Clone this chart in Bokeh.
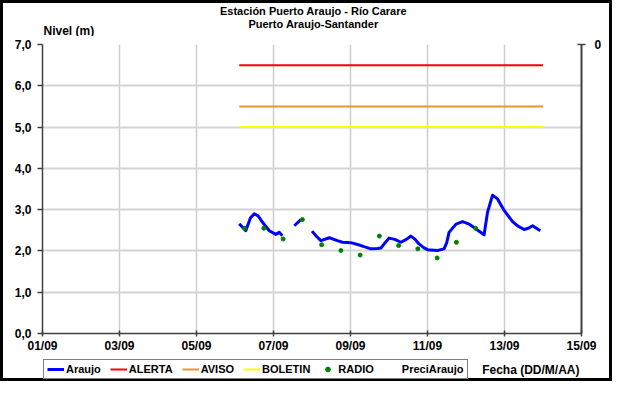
import pandas as pd
from bokeh.plotting import figure
from bokeh.layouts import column
from bokeh.models import (Range1d, LinearAxis, FixedTicker, DatetimeTickFormatter,
                          Label, Legend, LegendItem, ColumnDataSource)
from bokeh.embed import file_html
from bokeh.resources import INLINE

# ---------------- data ----------------
araujo_times = [
    "2023-09-06 02:38", "2023-09-06 06:43", "2023-09-06 09:36", "2023-09-06 12:00",
    "2023-09-06 14:24", "2023-09-06 17:02", "2023-09-06 21:22", "2023-09-07 01:26",
    "2023-09-07 03:36", "2023-09-07 05:31", "2023-09-07 09:00",
    "2023-09-07 12:58", "2023-09-07 17:02", "2023-09-07 20:00",
    "2023-09-08 00:00", "2023-09-08 02:53", "2023-09-08 05:31", "2023-09-08 10:48",
    "2023-09-08 15:50", "2023-09-08 18:58", "2023-09-09 00:14", "2023-09-09 06:29",
    "2023-09-09 12:43", "2023-09-09 16:48", "2023-09-09 18:58", "2023-09-09 21:36",
    "2023-09-10 00:00", "2023-09-10 03:36", "2023-09-10 07:26", "2023-09-10 10:48",
    "2023-09-10 13:41", "2023-09-10 16:19", "2023-09-10 18:43", "2023-09-10 21:36",
    "2023-09-11 00:00", "2023-09-11 06:14", "2023-09-11 10:19", "2023-09-11 12:00",
    "2023-09-11 13:26", "2023-09-11 17:46", "2023-09-11 21:50", "2023-09-12 01:55",
    "2023-09-12 06:14", "2023-09-12 11:17", "2023-09-12 13:26", "2023-09-12 16:34",
    "2023-09-12 19:41", "2023-09-12 23:46", "2023-09-13 05:02", "2023-09-13 08:24",
    "2023-09-13 12:14", "2023-09-13 14:53", "2023-09-13 17:31", "2023-09-13 22:19",
]
araujo_levels = [
    2.66, 2.49, 2.80, 2.90,
    2.85, 2.70, 2.49, 2.40,
    2.45, 2.37, float("nan"),
    2.61, 2.76, float("nan"),
    2.48, 2.35, 2.25, 2.32,
    2.25, 2.21, 2.20, 2.13,
    2.05, 2.06, 2.07, 2.20,
    2.31, 2.28, 2.21, 2.28,
    2.36, 2.28, 2.17, 2.08,
    2.03, 2.01, 2.05, 2.20,
    2.45, 2.65, 2.71, 2.65,
    2.53, 2.39, 2.94, 3.35,
    3.26, 2.98, 2.71, 2.60,
    2.52, 2.55, 2.61, 2.49,
]
radio_times = [
    "2023-09-06 06:00", "2023-09-06 18:00", "2023-09-07 06:00", "2023-09-07 18:00",
    "2023-09-08 06:00", "2023-09-08 18:00", "2023-09-09 06:00", "2023-09-09 18:00",
    "2023-09-10 06:00", "2023-09-10 18:00", "2023-09-11 06:00", "2023-09-11 18:00",
    "2023-09-12 06:00",
]
radio_levels = [2.55, 2.55, 2.29, 2.76, 2.15, 2.01, 1.90, 2.36, 2.13, 2.05, 1.83, 2.21, 2.55]

threshold_times = ["2023-09-06 02:38", "2023-09-14 00:00"]
alerta_level = [6.5, 6.5]
aviso_level = [5.5, 5.5]
boletin_level = [5.0, 5.0]

x_tick_dates = ["2023-09-01", "2023-09-03", "2023-09-05", "2023-09-07",
                "2023-09-09", "2023-09-11", "2023-09-13", "2023-09-15"]
y_ticks = [0, 1, 2, 3, 4, 5, 6, 7]
y_tick_labels = ["0,0", "1,0", "2,0", "3,0", "4,0", "5,0", "6,0", "7,0"]

title_line1 = "Estación Puerto Araujo - Río Carare"
title_line2 = "Puerto Araujo-Santander"
y_title = "Nivel (m)"
x_title = "Fecha (DD/M/AA)"
series_names = ["Araujo", "ALERTA", "AVISO", "BOLETIN", "RADIO", "PreciAraujo"]

FONT = "Liberation Sans"
W = 612
ML, MR = 39, 34
H_TOP, H_MAIN, H_BOT = 36, 319, 26
BORDER = "3px solid black"

COL_ARAUJO, COL_ALERTA, COL_AVISO, COL_BOLETIN, COL_RADIO = (
    "#0000ff", "#ff0000", "#e8962e", "#ffff00", "#008000")


def bare_figure(height, borders):
    f = figure(width=W, height=height, output_backend="svg", toolbar_location=None,
               x_axis_location=None, y_axis_location=None,
               x_range=Range1d(0, 1), y_range=Range1d(0, 1),
               min_border_left=ML, min_border_right=MR,
               min_border_top=0, min_border_bottom=0)
    f.grid.visible = False
    f.outline_line_color = None
    f.background_fill_color = "white"
    f.border_fill_color = "white"
    f.styles = {b: BORDER for b in borders}
    return f


def label(fig, x, y, text, size, align="left"):
    fig.add_layout(Label(x=x, y=y, x_units="screen", y_units="screen", text=text,
                         text_font=FONT, text_font_style="bold", text_font_size=size,
                         text_align=align, text_baseline="middle", text_color="black"))


# ---------------- top strip: titles ----------------
p_top = bare_figure(H_TOP, ["border-top", "border-left", "border-right"])
label(p_top, 271, 29, title_line1, "11px", "center")
label(p_top, 271, 16, title_line2, "11px", "center")
label(p_top, 1, 9, y_title, "12px")

# ---------------- main chart ----------------
x_start = pd.Timestamp(x_tick_dates[0])
x_end = pd.Timestamp(x_tick_dates[-1])

p = figure(width=W, height=H_MAIN, x_axis_type="datetime",
           x_range=Range1d(x_start, x_end), y_range=Range1d(0, 7),
           output_backend="svg", toolbar_location=None,
           min_border_left=ML, min_border_right=MR, min_border_top=8, min_border_bottom=21)
p.styles = {"border-left": BORDER, "border-right": BORDER}
p.outline_line_color = None
p.background_fill_color = "white"
p.border_fill_color = "white"

p.xaxis.ticker = FixedTicker(ticks=[pd.Timestamp(d).value / 1e6 for d in x_tick_dates])
p.xaxis.formatter = DatetimeTickFormatter(days="%d/%m", months="%d/%m", hours="%d/%m")
p.yaxis.ticker = FixedTicker(ticks=y_ticks)
p.yaxis.major_label_overrides = {t: l for t, l in zip(y_ticks, y_tick_labels)}

for ax in (p.xaxis[0], p.yaxis[0]):
    ax.axis_line_color = "#404040"
    ax.axis_line_width = 1.5
    ax.major_tick_line_color = "#404040"
    ax.major_tick_line_width = 1.5
    ax.minor_tick_line_color = None
    ax.major_label_text_font = FONT
    ax.major_label_text_font_style = "bold"
    ax.major_label_text_font_size = "12px"
    ax.major_label_text_color = "black"
p.xaxis.major_tick_in = 3
p.xaxis.major_tick_out = 3
p.xaxis.major_label_standoff = 2
p.yaxis.major_tick_in = 0
p.yaxis.major_tick_out = 5
p.yaxis.major_label_standoff = 6

# right (precipitation) axis
p.extra_y_ranges = {"prec": Range1d(10, 0)}
rax = LinearAxis(y_range_name="prec", ticker=FixedTicker(ticks=[0]))
rax.axis_line_color = "#404040"
rax.axis_line_width = 2
rax.major_tick_line_color = "#404040"
rax.major_tick_line_width = 1.5
rax.major_tick_in = 4
rax.major_tick_out = 4
rax.minor_tick_line_color = None
rax.major_label_text_font = FONT
rax.major_label_text_font_style = "bold"
rax.major_label_text_font_size = "12px"
rax.major_label_text_color = "black"
rax.major_label_standoff = 9
p.add_layout(rax, "right")

p.xgrid.ticker = p.xaxis[0].ticker
p.xgrid.grid_line_color = "#cccccc"
p.xgrid.grid_line_width = 1.5
p.ygrid.grid_line_color = "#d4d4d4"
p.ygrid.grid_line_width = 2

src = ColumnDataSource(dict(t=pd.to_datetime(araujo_times), v=araujo_levels))
thr = ColumnDataSource(dict(t=pd.to_datetime(threshold_times), a=alerta_level,
                            w=aviso_level, b=boletin_level))
rad = ColumnDataSource(dict(t=pd.to_datetime(radio_times), v=radio_levels))

p.line("t", "a", source=thr, line_color=COL_ALERTA, line_width=2)
p.line("t", "w", source=thr, line_color=COL_AVISO, line_width=2)
p.line("t", "b", source=thr, line_color=COL_BOLETIN, line_width=2)
p.line("t", "v", source=src, line_color=COL_ARAUJO, line_width=3, line_join="round")
p.scatter("t", "v", source=rad, size=4, color=COL_RADIO)

# ---------------- bottom strip: legend + x title ----------------
p_bot = bare_figure(H_BOT, ["border-bottom", "border-left", "border-right"])
nan = float("nan")
key_src = ColumnDataSource(dict(x=[nan], y=[nan]))   # legend keys only, nothing plotted
lr_araujo = p_bot.line("x", "y", source=key_src, line_color=COL_ARAUJO, line_width=3)
lr_alerta = p_bot.line("x", "y", source=key_src, line_color=COL_ALERTA, line_width=2)
lr_aviso = p_bot.line("x", "y", source=key_src, line_color=COL_AVISO, line_width=2)
lr_boletin = p_bot.line("x", "y", source=key_src, line_color=COL_BOLETIN, line_width=2)
lr_radio = p_bot.scatter("x", "y", source=key_src, size=4, color=COL_RADIO)
lr_prec = p_bot.scatter("x", "y", source=key_src, size=4, fill_alpha=0, line_alpha=0)

legend = Legend(items=[
    LegendItem(label=n, renderers=[r]) for n, r in zip(
        series_names, [lr_araujo, lr_alerta, lr_aviso, lr_boletin, lr_radio, lr_prec])
], orientation="horizontal", location=(1, 2))
legend.border_line_color = "black"
legend.border_line_width = 1
legend.background_fill_color = "white"
legend.background_fill_alpha = 1
legend.label_text_font = FONT
legend.label_text_font_style = "bold"
legend.label_text_font_size = "11px"
legend.label_text_color = "black"
legend.glyph_width = 17
legend.glyph_height = 12
legend.label_height = 12
legend.label_standoff = 2
legend.spacing = 9
legend.padding = 3
legend.margin = 0
p_bot.add_layout(legend, "center")

label(p_bot, 537, 12, x_title, "12px", "right")

layout = column(p_top, p, p_bot, spacing=0)
open("out.html", "w").write(file_html(layout, INLINE))
